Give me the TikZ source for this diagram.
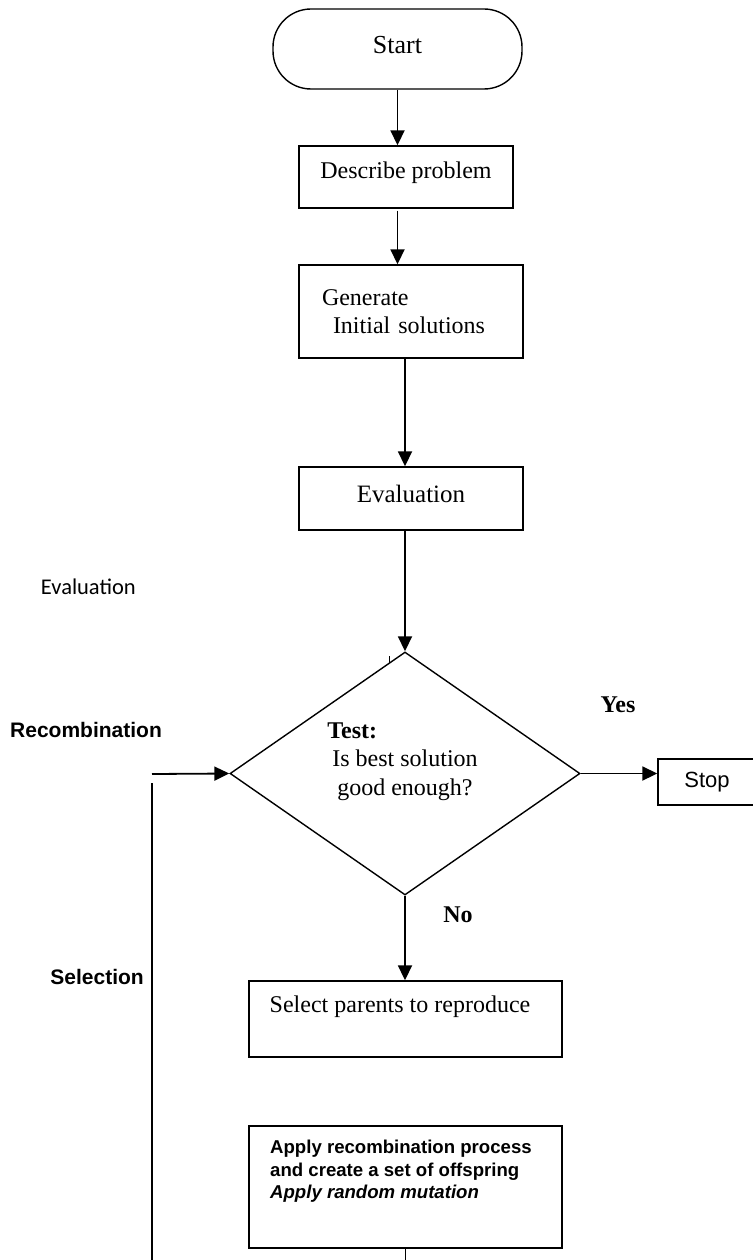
\documentclass[tikz,border=0pt]{standalone}
\usepackage{fontspec}
\setmainfont{Liberation Serif}
\setsansfont{Liberation Sans}
\newfontfamily\calibfont{Carlito}
\usetikzlibrary{arrows.meta,shapes.geometric}
\begin{document}
\begin{tikzpicture}[x=1pt,y=-1pt,
  box/.style={draw, line width=1.4pt, rectangle, inner sep=0pt},
  conn/.style={line width=1.8pt, -{Triangle[length=15pt,width=14pt]}},
  plainline/.style={line width=1.8pt},
  serifbig/.style={font=\fontsize{24}{28}\selectfont},
  sidelabel/.style={font=\sffamily\bfseries\fontsize{21}{25}\selectfont, inner sep=0pt}
]
\useasboundingbox (0,0) rectangle (752,1260);

% boxes
\node[box, rounded corners=38pt, minimum width=249pt, minimum height=80pt, text depth=8pt,
      font=\fontsize{26}{30}\selectfont] (start) at (397.5,49) {Start};
\node[box, minimum width=214pt, minimum height=62pt, text depth=13pt, serifbig] (desc) at (406,177) {Describe problem};
\node[box, minimum width=224pt, minimum height=93pt, serifbig, align=left, text width=178pt]
      (gen) at (411,311.5) {Generate\\\hspace*{11pt}Initial solutions};
\node[box, minimum width=224pt, minimum height=63pt, text depth=9pt, font=\fontsize{25}{30}\selectfont]
      (eval) at (411,498.5) {Evaluation};
\node[draw, diamond, line width=1.4pt, minimum width=350pt, minimum height=243pt, inner sep=0pt]
      (dia) at (405,773.5) {};
\node[align=left, inner sep=0pt, font=\fontsize{24}{28.5}\selectfont] (dtext) at (402.5,761.5)
      {\textbf{Test:}\\\hspace*{5pt}Is best solution\\\hspace*{10pt}good enough?};
\node[box, minimum width=98pt, minimum height=46pt, font=\sffamily\fontsize{22}{26}\selectfont]
      (stop) at (707,782) {Stop};
\node[box, minimum width=313pt, minimum height=76pt] (sel) at (405.5,1019) {};
\node[serifbig, inner sep=0pt] (seltext) at (400,1007) {Select parents to reproduce};
\node[box, minimum width=313pt, minimum height=122pt] (app) at (405.5,1187) {};
\node[anchor=north west, inner sep=0pt, align=left,
      font=\sffamily\bfseries\fontsize{18.6}{22.5}\selectfont] (apptext) at (270,1140)
      {Apply recombination process\\and create a set of offspring\\\textit{Apply random mutation}};

% labels
\node[font=\bfseries\fontsize{24}{28}\selectfont] (yes) at (618,705) {Yes};
\node[font=\bfseries\fontsize{24}{28}\selectfont] (no) at (458,915) {No};
\node[anchor=east, inner sep=0pt, font=\calibfont\fontsize{22.5}{26}\selectfont] (levl) at (136,587) {Evaluation};
\node[anchor=west, sidelabel] (lrec) at (10,730) {Recombination};
\node[anchor=east, sidelabel] (lsel) at (144,977) {Selection};

% connectors
\draw[conn] (start.south) -- (start.south |- desc.north);
\draw[conn] ([yshift=-2pt]start.south |- desc.south) -- (start.south |- gen.north);
\draw[conn] (dia.north |- gen.south) -- (dia.north |- eval.north);
\draw[conn] (dia.north |- eval.south) -- (dia.north);
\draw[conn] (dia.east) -- (dia.east -| stop.west);
\draw[conn] (dia.south) -- (dia.south |- sel.north);
\coordinate (lpA) at (152,774);
\draw[conn] (lpA) -- (dia.west);
\coordinate (lpB) at (152,783);
\coordinate (lpC) at (152,1262);
\draw[plainline] (lpB) -- (lpC);
\coordinate (bot) at (app.south |- lpC);
\draw[plainline] (app.south) -- (bot);
\coordinate (tk1) at (389,656);
\coordinate (tk2) at (389,663);
\draw[line width=1pt] (tk1) -- (tk2);
\end{tikzpicture}
\end{document}
